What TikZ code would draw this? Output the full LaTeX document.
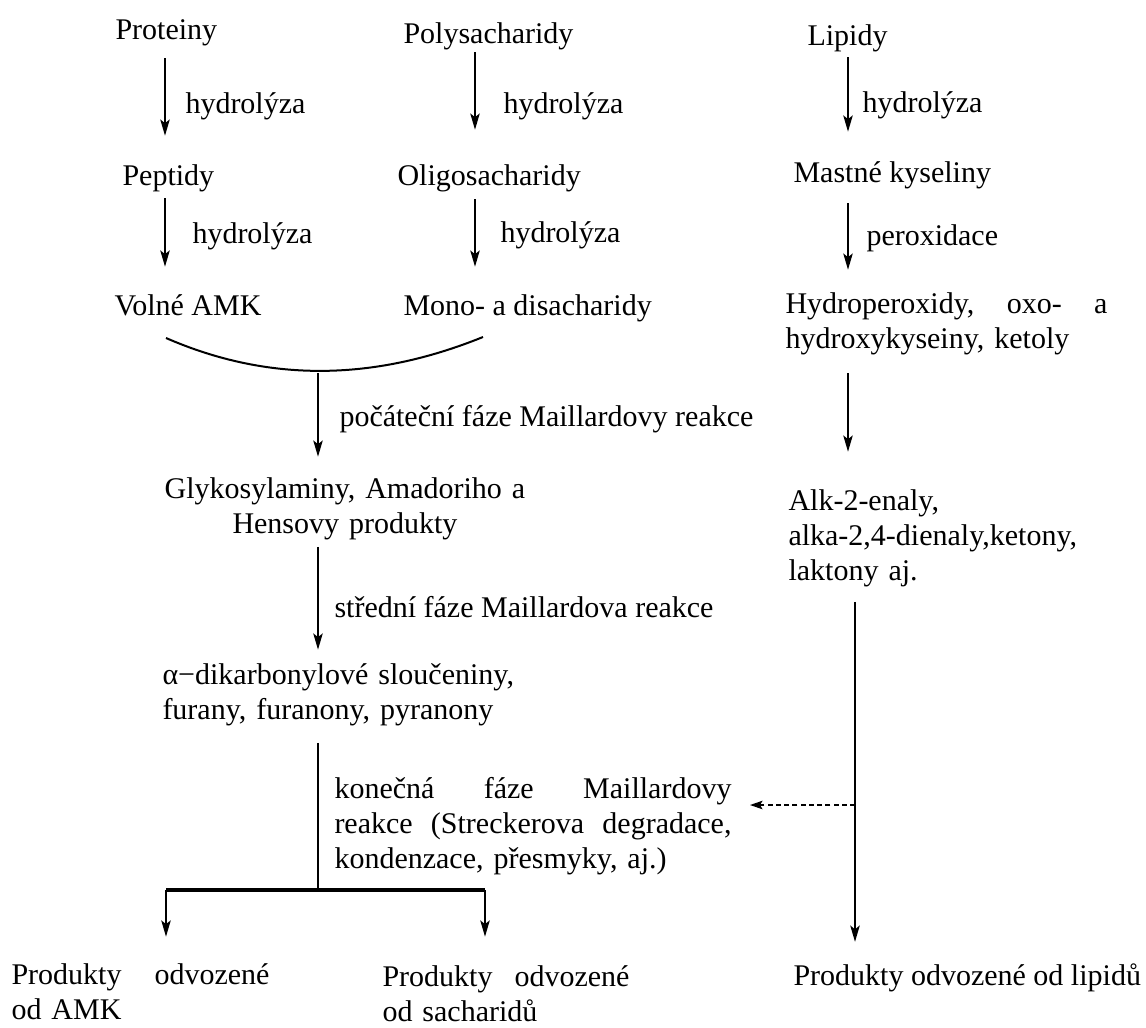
\documentclass[tikz,border=0pt]{standalone}
\usepackage{fontspec}
\setmainfont{Liberation Serif}
\usetikzlibrary{arrows.meta}

\begin{document}
\begin{tikzpicture}[x=0.4pt, y=-0.4pt,
        txt/.style={anchor=base west, inner sep=0pt, font=\fontsize{12}{14}\selectfont},
        arr/.style={-{Stealth[length=6.5pt, width=3.8pt, inset=1.5pt]}, line width=0.6pt},
        darr/.style={-{Stealth[length=5pt, width=3.4pt, inset=1pt]}, line width=0.6pt, dash pattern=on 2pt off 1.3pt}]
        \useasboundingbox (0,0) rectangle (1146,1027);

        % Columns of the arrows
        \coordinate (cP) at (165,0);
        \coordinate (cS) at (475,0);
        \coordinate (cL) at (848,0);
        \coordinate (cM) at (318,0);
        \coordinate (cR) at (855,0);

        % Proteins
        \node[txt] (prot) at (115,39) {Proteiny};
        \node[txt] (pept) at (122,185) {Peptidy};
        \node[txt] (amk) at (114,315) {Volné AMK};
        \draw[arr, shorten <=5pt, shorten >=11.2pt] (cP |- prot.south) -- (cP |- pept.north);
        \draw[arr, shorten <=2.6pt, shorten >=10.8pt] (cP |- pept.south) -- (cP |- amk.north);
        \node[txt] (hydP1) at (185,113) {hydrolýza};
        \node[txt] (hydP2) at (192,243) {hydrolýza};

        % Saccharides
        \node[txt] (poly) at (403,43) {Polysacharidy};
        \node[txt] (oligo) at (397,185) {Oligosacharidy};
        \node[txt] (mono) at (403,315) {Mono- a disacharidy};
        \draw[arr, shorten <=1pt, shorten >=13.6pt] (cS |- poly.south) -- (cS |- oligo.north);
        \draw[arr, shorten <=3pt, shorten >=10.8pt] (cS |- oligo.south) -- (cS |- mono.north);
        \node[txt] (hydS1) at (503,113) {hydrolýza};
        \node[txt] (hydS2) at (500,242) {hydrolýza};

        % Lipids
        \node[txt] (lip) at (807,45) {Lipidy};
        \node[txt] (mast) at (793,182) {Mastné kyseliny};
        \node[txt, text width=128.8pt, align=left] (hydro) at (785,313)
            {\leavevmode\hbox to 128.8pt{Hydroperoxidy,\hfil oxo-\hfil a}\\hydroxykyseiny, ketoly};
        \node[txt, text width=130pt, align=left] (alk) at (788,510)
            {Alk-2-enaly,\\alka-2,4-dienaly,ketony,\\laktony aj.};
        \draw[arr, shorten <=2.2pt, shorten >=11.6pt] (cL |- lip.south) -- (cL |- mast.north);
        \draw[arr, shorten <=5.8pt, shorten >=8.8pt] (cL |- mast.south) -- (cL |- hydro.north);
        \draw[arr, shorten <=7.4pt, shorten >=14.8pt] (cL |- hydro.south) -- (cL |- alk.north);
        \node[txt] (hydL) at (862,112) {hydrolýza};
        \node[txt] (perox) at (866,245) {peroxidace};

        % Maillard reaction
        \coordinate (arcL) at (166,338);
        \coordinate (arcR) at (483,337);
        \coordinate (join) at (318,371);
        \draw[line width=0.8pt] (arcL) .. controls (267,382) and (372,382) .. (arcR);
        \node[txt, text width=150pt, align=center, anchor=base] (glyk) at (345,498)
            {Glykosylaminy, Amadoriho a\\Hensovy produkty};
        \node[txt, text width=150pt, align=left] (alfa) at (162,684)
            {α−dikarbonylové sloučeniny,\\furany, furanony, pyranony};
        \draw[arr, shorten <=0.8pt, shorten >=8pt] (join) -- (cM |- glyk.north);
        \draw[arr, shorten <=2.8pt, shorten >=5.2pt] (cM |- glyk.south) -- (cM |- alfa.north);
        \node[txt] (pocat) at (339,426) {počáteční fáze Maillardovy reakce};
        \node[txt] (stred) at (334,617) {střední fáze Maillardova reakce};
        \node[txt, text width=158.8pt, align=left] (konec) at (334,798)
            {\leavevmode\hbox to 158.8pt{konečná\hfil fáze\hfil Maillardovy}\\
             \leavevmode\hbox to 158.8pt{reakce\hfil (Streckerova\hfil degradace,}\\
             kondenzace, přesmyky, aj.)};

        % Branching to the products
        \coordinate (barL) at (166,890);
        \coordinate (barR) at (485,890);
        \draw[line width=0.6pt, shorten <=6.8pt] (cM |- alfa.south) -- (cM |- barL);
        \draw[line width=1.3pt] (barL) -- (barR);
        \node[txt, text width=103.2pt, align=left] (pAMK) at (11,984)
            {\leavevmode\hbox to 103.2pt{Produkty\hfil odvozené}\\od AMK};
        \node[txt, text width=98.8pt, align=left] (pSach) at (382,986)
            {\leavevmode\hbox to 98.8pt{Produkty\hfil odvozené}\\od sacharidů};
        \node[txt] (pLip) at (793,985) {Produkty odvozené od lipidů};
        \draw[arr, shorten >=10.4pt] (barL) -- (barL |- pAMK.north);
        \draw[arr, shorten >=11.2pt] (barR) -- (barR |- pSach.north);

        % Lipid branch
        \draw[arr, shorten <=6pt, shorten >=8.4pt] (cR |- alk.south) -- (cR |- pLip.north);
        \coordinate (dsh) at (855,805);
        \draw[darr, shorten >=7.2pt] (dsh) -- (dsh -| konec.east);
\end{tikzpicture}
\end{document}
